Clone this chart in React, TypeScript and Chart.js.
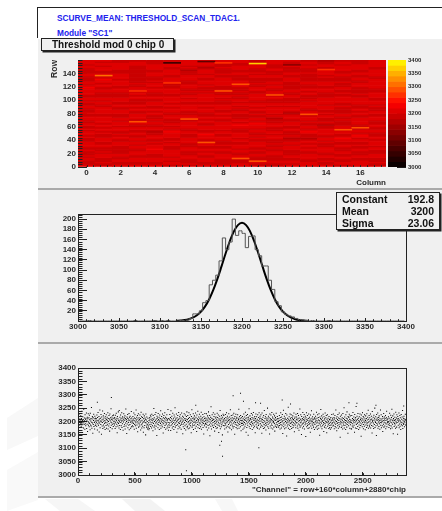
import React, { useEffect, useRef } from "react";
import { Chart, registerables } from "chart.js";

Chart.register(...registerables);

const FONT = "'Liberation Sans', Arial, sans-serif";

// Texts
const headerLine1 = "SCURVE_MEAN: THRESHOLD_SCAN_TDAC1.";
const headerLine2 = 'Module "SC1"';
const mapTitle = "Threshold mod 0 chip 0";
const mapXTitle = "Column";
const mapYTitle = "Row";
const scatterXTitle = '"Channel" = row+160*column+2880*chip';
const statsRows = [["Constant", "192.8"], ["Mean", "3200"], ["Sigma", "23.06"]];

// Ticks
const mapXTicks = [0, 2, 4, 6, 8, 10, 12, 14, 16];
const mapYTicks = [0, 20, 40, 60, 80, 100, 120, 140];
const barTicks = [3000, 3050, 3100, 3150, 3200, 3250, 3300, 3350, 3400];
const histXTicks = [3000, 3050, 3100, 3150, 3200, 3250, 3300, 3350, 3400];
const histYTicks = [20, 40, 60, 80, 100, 120, 140, 160, 180, 200];
const scatterXTicks = [0, 500, 1000, 1500, 2000, 2500];
const scatterYTicks = [3000, 3050, 3100, 3150, 3200, 3250, 3300, 3350, 3400];

// Mean threshold above 3000, every second row of each column (bottom to top)
const col00 = [205,191,214,178,196,228,201,187,209,197,166,206,221,193,182,211,199,238,188,204,159,218,194,207,176,246,198,189,213,203,171,225,192,208,184,212,199,232,174,205,190,216,163,210,200,229,186,195,214,180,223,193,207,169,231,187,202,211,183,252,197,175,209,219,194,156,215,189,204,227,181,210,196,172,220,201,185,212,191,206];
const col01 = [211,197,182,224,203,168,215,192,234,205,186,198,219,161,209,194,243,177,202,212,189,226,199,152,217,206,183,196,239,174,208,221,187,201,213,179,230,193,204,170,218,197,210,185,225,175,207,195,216,188,203,233,172,211,200,183,222,192,209,164,228,205,178,214,198,248,186,208,195,217,173,206,190,222,212,181,224,201,193,210];
const col02 = [187,215,201,174,223,195,208,180,231,203,190,212,158,219,197,183,209,236,193,204,176,241,199,185,216,206,170,224,196,210,184,202,233,178,213,192,218,203,167,208,198,229,181,214,188,205,221,172,211,194,247,183,207,200,155,217,191,212,226,177,203,196,209,186,230,169,216,205,189,220,197,175,210,201,237,180,213,194,205,184];
const col03 = [198,219,180,209,193,232,204,171,213,189,225,201,184,210,195,243,175,206,216,187,199,222,162,209,194,229,179,203,214,191,207,183,224,197,211,168,202,235,188,218,176,205,192,215,182,197,227,160,210,199,177,221,203,185,213,196,208,150,228,194,206,179,217,187,200,172,190,212,177,183,195,169,204,174,214,188,208,198,223,181];
const col04 = [218,190,206,176,227,196,210,184,203,165,222,193,208,249,179,214,200,186,226,172,205,194,234,182,209,198,148,220,191,213,203,177,230,188,207,196,216,170,202,224,184,211,193,240,175,206,199,219,187,209,180,228,195,204,157,214,192,222,201,178,210,233,185,197,216,171,206,190,212,194,225,176,203,208,183,245,196,167,211,188];
const col05 = [178,208,194,226,184,204,215,166,240,197,210,187,220,201,176,192,231,206,181,212,196,170,224,203,190,217,251,179,206,194,210,185,228,199,160,214,203,188,222,173,207,195,234,182,210,193,218,177,200,225,186,205,213,171,194,232,189,209,198,220,154,202,180,216,191,206,229,174,196,211,184,224,204,168,209,190,219,200,236,179];
const col06 = [207,182,222,195,173,211,200,233,188,215,176,204,193,225,184,209,197,158,219,205,244,179,212,191,201,185,229,170,213,196,207,221,187,210,199,175,232,194,216,182,204,163,224,197,210,189,238,177,207,202,217,186,195,227,174,212,192,206,180,220,198,235,171,209,187,203,214,195,226,178,206,193,153,218,200,184,211,230,190,205];
const col07 = [193,213,203,179,229,190,209,197,168,221,205,185,214,236,176,199,210,188,222,147,207,194,216,182,255,201,172,212,191,225,204,184,209,196,233,178,207,219,187,200,164,227,193,213,181,203,217,175,198,208,190,231,177,215,202,186,224,195,159,210,206,183,220,192,241,173,205,198,212,180,222,188,209,194,150,216,201,227,185,206];
const col08 = [222,198,184,211,172,206,193,226,187,215,203,177,233,195,209,182,220,199,161,213,204,189,229,179,207,194,217,175,201,244,186,210,197,222,169,205,191,214,183,203,224,176,209,194,231,181,212,199,152,219,190,206,196,227,178,210,187,216,203,173,197,225,184,212,192,207,246,175,201,218,189,195,210,180,222,204,165,214,193,203];
const col09 = [185,205,219,193,171,212,199,188,228,176,207,196,217,182,204,235,191,210,160,222,201,178,214,194,226,186,206,149,216,198,209,248,180,203,192,221,174,211,189,207,196,230,183,200,215,170,224,193,209,187,234,177,204,213,195,182,219,206,158,211,199,228,188,202,218,179,194,208,175,225,197,204,185,215,191,233,172,209,201,220];
const col10 = [212,192,179,225,202,186,209,156,232,197,207,182,216,195,174,222,204,189,241,177,199,211,184,218,193,168,226,206,187,213,196,203,250,180,209,190,220,175,201,214,194,153,228,205,183,210,198,224,176,207,191,234,185,203,217,172,212,196,200,227,179,206,193,221,164,209,187,215,204,181,231,195,178,208,189,219,199,211,184,202];
const col11 = [200,179,210,193,222,185,204,172,215,196,233,189,207,176,217,198,184,226,202,155,211,191,242,180,205,195,220,173,209,187,213,200,230,177,207,194,146,224,197,183,212,203,190,253,175,208,198,218,186,203,170,228,193,212,181,206,225,195,174,215,201,188,210,221,178,196,207,184,232,192,162,212,203,217,187,199,177,227,194,208];
const col12 = [217,196,206,183,230,175,210,191,222,201,167,213,187,204,247,179,195,208,225,184,198,151,219,205,190,211,176,234,193,207,182,216,197,226,172,203,209,188,220,194,144,214,200,233,180,207,192,222,185,204,174,211,197,228,189,177,216,202,193,209,160,224,183,205,199,240,175,212,191,201,218,186,207,196,179,227,194,210,170,214];
const col13 = [189,209,199,220,177,205,194,235,182,212,202,171,225,195,185,215,206,175,229,192,203,149,217,197,187,211,245,180,207,194,221,173,200,213,184,204,227,190,196,163,218,206,179,210,193,232,186,201,214,176,222,198,158,208,195,225,182,203,212,188,199,174,219,193,207,178,185,209,171,197,215,187,203,177,226,192,206,195,212,183];
const col14 = [206,228,186,198,215,173,209,194,222,181,203,190,243,177,212,200,165,218,193,207,184,226,196,175,213,204,188,232,180,210,195,141,220,201,191,208,178,224,197,183,214,205,172,230,194,211,187,199,251,176,207,217,185,196,204,170,225,192,212,202,179,236,189,209,197,156,219,203,184,215,194,227,208,175,200,221,188,206,196,173];
const col15 = [195,172,222,203,183,211,192,234,179,207,198,217,186,204,160,226,195,209,176,215,201,256,189,205,174,220,193,208,181,230,197,212,170,204,187,218,199,177,228,194,207,185,213,145,224,202,191,210,180,233,196,206,219,173,189,214,201,182,225,195,209,169,204,221,187,198,211,178,229,192,206,184,216,196,242,175,208,199,222,186];
const col16 = [180,214,202,191,228,176,207,195,220,185,209,157,237,199,204,182,216,194,174,223,206,189,212,250,178,201,196,218,184,208,148,226,193,204,213,187,232,175,207,198,215,181,221,192,203,171,210,196,243,186,205,225,177,195,209,200,184,219,163,212,204,190,230,179,197,217,206,183,211,194,222,173,204,191,214,238,180,208,195,201];
const col17 = [209,196,188,218,200,178,212,192,231,185,205,198,173,223,208,183,215,195,246,176,203,190,221,206,154,211,197,228,181,204,193,216,187,207,175,235,201,194,213,179,225,196,209,152,219,204,186,210,199,232,177,206,191,222,182,214,202,170,195,226,188,208,197,217,184,241,174,205,193,212,189,220,200,180,209,195,203,227,187,207];
const channelMean = [col00, col01, col02, col03, col04, col05, col06, col07, col08, col09, col10, col11, col12, col13, col14, col15, col16, col17];

// Single pixels that stand out in the map: column, row, value
const mapColumns = [10, 5, 7, 8, 1, 15, 16, 11, 10, 9, 7, 9, 3, 6, 3, 14, 5, 8, 13, 12];
const mapRows = [154, 155, 157, 155, 136, 55, 58, 107, 8, 12, 36, 123, 113, 71, 67, 145, 125, 113, 78, 152];
const mapHot = [3372, 3045, 3095, 3272, 3308, 3290, 3282, 3288, 3280, 3282, 3292, 3284, 3275, 3288, 3280, 3272, 3262, 3290, 3280, 3130];

// Isolated points of the channel plot
const strayChannels = [293, 170, 1362, 1427, 1453, 946, 952, 1245, 1260, 1269, 1588, 1793, 1866, 1559, 1603, 2379, 2449, 2616, 1034, 2860];
const strayValues = [3290, 3272, 3296, 3306, 3276, 3094, 3016, 3111, 3126, 3070, 3102, 3280, 3265, 3270, 3268, 3270, 3268, 3261, 3261, 3258];

// Histogram, bins of 4 from 3000
const histCounts = [
  0, 0, 0, 1, 0, 0, 0, 0, 0, 0, 0, 0, 0, 0, 0, 0, 0, 1, 0, 0,
  0, 0, 0, 1, 0, 1, 0, 1, 0, 0, 0, 1, 1, 2, 5, 14, 14, 20, 36, 40,
  71, 80, 90, 118, 163, 140, 155, 200, 168, 177, 172, 144, 166, 167, 140, 128, 108, 108, 80, 62,
  38, 30, 18, 13, 10, 8, 5, 3, 2, 1, 0, 1, 0, 0, 0, 0, 1, 0, 0, 0,
  0, 0, 0, 0, 0, 0, 0, 0, 0, 0, 0, 0, 0, 0, 0, 0, 0, 0, 0, 0,
];
const fitX = [3120, 3125, 3130, 3135, 3140, 3145, 3150, 3155, 3160, 3165, 3170, 3175, 3180, 3185, 3190, 3195, 3200, 3205, 3210, 3215, 3220, 3225, 3230, 3235, 3240, 3245, 3250, 3255, 3260, 3265, 3270, 3275, 3280];
const fitY = [0.5, 1, 1.9, 3.6, 6.5, 11.2, 18.4, 28.7, 42.8, 60.9, 82.7, 107.1, 132.4, 156, 175.5, 188.3, 192.8, 188.3, 175.5, 156, 132.4, 107.1, 82.7, 60.9, 42.8, 28.7, 18.4, 11.2, 6.5, 3.6, 1.9, 1, 0.5];

// Colour of a level, black through red to yellow
function heatColor(value: number) {
  const level = Math.min(19, Math.max(0, Math.floor((value - 3000) / 20)));
  const v = 3000 + (level + 0.5) * 20;
  if (v <= 3240) return `rgb(${Math.round(((v - 3000) / 240) * 255)},0,0)`;
  return `rgb(255,${Math.round(((v - 3240) / 160) * 255)},0)`;
}

const tickFont = { family: FONT, size: 8, weight: "bold" as const };
const INK = "#222";
const plainLabel = (v: any) => String(v);

// Inward small ticks and the frame of the plot
const rootAxes = {
  id: "rootAxes",
  afterDraw(chart: any, _a: any, o: any) {
    const { ctx, chartArea: c, scales } = chart;
    ctx.save();
    ctx.strokeStyle = INK;
    ctx.lineWidth = 1;
    if (o.frame) ctx.strokeRect(Math.round(c.left) + 0.5, Math.round(c.top) + 0.5, Math.round(c.width), Math.round(c.height));
    for (let v = o.xFrom; o.xStep && v <= o.xTo + 1e-6; v += o.xStep) {
      const p = Math.round(scales.x.getPixelForValue(v)) + 0.5;
      ctx.beginPath(); ctx.moveTo(p, c.bottom); ctx.lineTo(p, c.bottom - 1.8); ctx.stroke();
    }
    for (let v = o.yFrom; o.yStep && v <= o.yTo + 1e-6; v += o.yStep) {
      const p = Math.round(scales.y.getPixelForValue(v)) + 0.5;
      ctx.beginPath(); ctx.moveTo(c.left, p); ctx.lineTo(c.left + 4.5, p); ctx.stroke();
    }
    ctx.restore();
  },
};

function axis(ticks: number[], min: number, max: number, horizontal: boolean, size: number, title?: any, hideBorder?: boolean) {
  const tl = horizontal ? 3 : 9;
  return {
    type: "linear" as const,
    min,
    max,
    offset: false,
    position: horizontal ? ("bottom" as const) : ("left" as const),
    afterBuildTicks: (s: any) => { s.ticks = ticks.map((value) => ({ value })); },
    afterFit: (s: any) => { if (horizontal) s.height = size; else s.width = size; },
    grid: { display: true, offset: false, drawOnChartArea: false, drawTicks: true, tickLength: -tl, tickColor: INK, tickWidth: 1 },
    border: { display: !hideBorder, color: INK },
    ticks: { font: tickFont, color: "#2a2a2a", autoSkip: false, maxRotation: 0, padding: tl + (horizontal ? 1 : 2), callback: plainLabel },
    title,
  };
}

function useChart(make: (c: HTMLCanvasElement) => Chart) {
  const ref = useRef<HTMLCanvasElement>(null);
  useEffect(() => {
    const chart = make(ref.current!);
    return () => chart.destroy();
  }, []);
  return ref;
}

function makeMap(canvas: HTMLCanvasElement) {
  const points: any[] = [];
  const colors: string[] = [];
  channelMean.forEach((col, c) => col.forEach((m, i) => {
    // The rows are finer than a pixel here, so each band shows its neighbours too
    const below = col[Math.max(0, i - 1)];
    const above = col[Math.min(col.length - 1, i + 1)];
    points.push({ x: c, y: [i * 2, i * 2 + 2] });
    colors.push(heatColor(3000 + (below + 2 * m + above) / 4));
  }));
  mapHot.forEach((v, i) => {
    points.push({ x: mapColumns[i], y: [mapRows[i], mapRows[i] + 1.4] });
    colors.push(heatColor(v));
  });
  return new Chart(canvas, {
    type: "bar",
    data: { datasets: [{ data: points, backgroundColor: colors, borderWidth: 0, barPercentage: 1, categoryPercentage: 1 }] },
    plugins: [rootAxes],
    options: {
      responsive: false, animation: false, events: [],
      layout: { padding: { top: 21, right: 56, left: 0, bottom: 0 } },
      plugins: { legend: { display: false }, tooltip: { enabled: false }, rootAxes: { frame: false, xFrom: 0, xTo: 17.4, xStep: 0.4, yFrom: 0, yTo: 160, yStep: 4 } } as any,
      scales: {
        x: axis(mapXTicks, -0.5, 17.5, true, 21, { display: true, text: mapXTitle, align: "end", font: tickFont, color: "#2a2a2a", padding: { top: 0, bottom: 0.5 } }, true),
        y: axis(mapYTicks, 0, 160, false, 40, { display: true, text: mapYTitle, align: "end", font: { ...tickFont, size: 8.5 }, color: "#2a2a2a", padding: { top: 12, bottom: 0 } }, true),
      },
    },
  } as any);
}

function makeBar(canvas: HTMLCanvasElement) {
  const levels = Array.from({ length: 20 }, (_, i) => 3000 + i * 20);
  return new Chart(canvas, {
    type: "bar",
    data: {
      datasets: [{
        data: levels.map((l) => ({ x: 0, y: [l, l + 20] })),
        backgroundColor: levels.map((l) => heatColor(l + 1)),
        borderWidth: 0, barThickness: 19,
      }],
    },
    options: {
      responsive: false, animation: false, events: [],
      layout: { padding: { top: 21, bottom: 21, left: 0, right: 0 } },
      plugins: { legend: { display: false }, tooltip: { enabled: false } },
      scales: {
        x: { type: "linear", min: -0.5, max: 0.5, offset: false, display: false },
        y: {
          type: "linear", min: 3000, max: 3400, position: "right", offset: false,
          afterBuildTicks: (s: any) => { s.ticks = barTicks.map((value) => ({ value })); },
          afterFit: (s: any) => { s.width = 36; },
          grid: { display: true, drawOnChartArea: false, drawTicks: true, tickLength: -9, tickColor: "#1a1a1a" },
          border: { display: false },
          ticks: { font: { ...tickFont, size: 6 }, color: "#2a2a2a", autoSkip: false, padding: 11, callback: plainLabel },
        },
      },
    },
  } as any);
}

function makeHist(canvas: HTMLCanvasElement) {
  return new Chart(canvas, {
    type: "line",
    data: {
      datasets: [
        { data: histCounts.map((y, i) => ({ x: 3000 + i * 4 + 2, y })), borderColor: "#555", borderWidth: 1, stepped: "middle", pointRadius: 0 },
        { data: fitX.map((x, i) => ({ x, y: fitY[i] })), borderColor: "#000", borderWidth: 2, tension: 0.4, pointRadius: 0 },
      ],
    },
    plugins: [rootAxes],
    options: {
      responsive: false, animation: false, events: [],
      layout: { padding: { top: 24, right: 36, left: 0, bottom: 0 } },
      plugins: { legend: { display: false }, tooltip: { enabled: false }, rootAxes: { frame: true, xFrom: 3000, xTo: 3400, xStep: 10, yFrom: 0, yTo: 210, yStep: 4 } } as any,
      scales: { x: axis(histXTicks, 3000, 3400, true, 22), y: axis(histYTicks, 0, 210, false, 40) },
    },
  } as any);
}

function makeScatter(canvas: HTMLCanvasElement) {
  const points: any[] = [];
  channelMean.forEach((col, c) => col.forEach((m, i) => points.push({ x: c * 160 + i * 2, y: 3000 + m })));
  strayChannels.forEach((x, i) => points.push({ x, y: strayValues[i] }));
  return new Chart(canvas, {
    type: "scatter",
    data: { datasets: [{ data: points, backgroundColor: "#000", borderWidth: 0, pointStyle: "rect", pointRadius: 0.72 }] },
    plugins: [rootAxes],
    options: {
      responsive: false, animation: false, events: [],
      layout: { padding: { top: 25, right: 36, left: 0, bottom: 0 } },
      plugins: { legend: { display: false }, tooltip: { enabled: false }, rootAxes: { frame: true, xFrom: 0, xTo: 2880, xStep: 100, yFrom: 3000, yTo: 3400, yStep: 10 } } as any,
      scales: {
        x: axis(scatterXTicks, 0, 2880, true, 22, { display: true, text: scatterXTitle, align: "end", font: tickFont, color: "#2a2a2a", padding: { top: 0, bottom: 2 } }),
        y: axis(scatterYTicks, 3000, 3400, false, 40),
      },
    },
  } as any);
}

const panel = (top: number, height: number): React.CSSProperties => ({
  position: "absolute", left: 38, top, width: 404, height,
  background: "#f0f0f0", borderBottom: "2px solid #aaa", boxSizing: "border-box",
});
const abs = (left: number, top: number): React.CSSProperties => ({ position: "absolute", left, top, display: "block" });

export default function App() {
  const mapRef = useChart(makeMap);
  const barRef = useChart(makeBar);
  const histRef = useChart(makeHist);
  const scatterRef = useChart(makeScatter);
  return (
    <div style={{ position: "absolute", left: 0, top: 0, width: 442, height: 511, overflow: "hidden", background: "#fff", fontFamily: FONT, filter: "blur(0.4px)" }}>
      <svg width={442} height={511} style={abs(0, 0)}>
        <polygon points="7,418 38,398 38,436 7,450" fill="#f8f8f8" />
        <polygon points="7,470 38,452 38,500 7,511" fill="#f9f9f9" />
        <polygon points="45,499 78,499 95,511 60,511" fill="#f6f6f6" />
        <polygon points="122,499 150,499 165,511 135,511" fill="#f3f3f3" />
        <polygon points="215,499 232,499 238,511 222,511" fill="#f7f7f7" />
      </svg>
      <div style={{ position: "absolute", left: 37, top: 7, width: 405, height: 30, borderTop: "1px solid #222", borderLeft: "1px solid #222" }} />
      <div style={{ position: "absolute", left: 57, top: 13, color: "#2222ee", fontWeight: 700, fontSize: 8.3, lineHeight: "10px", whiteSpace: "nowrap" }}>{headerLine1}</div>
      <div style={{ position: "absolute", left: 57, top: 28, color: "#2222ee", fontWeight: 700, fontSize: 8.3, lineHeight: "10px", whiteSpace: "nowrap" }}>{headerLine2}</div>

      <div style={panel(39, 151)} />
      <div style={panel(190, 154)} />
      <div style={panel(344, 154)} />

      <canvas ref={mapRef} width={404} height={149} style={abs(38, 39)} />
      <canvas ref={barRef} width={54} height={149} style={abs(388, 39)} />
      <canvas ref={histRef} width={404} height={153} style={abs(38, 190)} />
      <canvas ref={scatterRef} width={404} height={154} style={abs(38, 343)} />

      <div style={{ position: "absolute", left: 41, top: 38, width: 133, height: 13, boxSizing: "border-box", background: "#f0f0f0", border: "1px solid #222", boxShadow: "1.5px 1.5px 0 #222", fontSize: 10, fontWeight: 700, lineHeight: "11px", paddingLeft: 10, whiteSpace: "nowrap", color: "#111" }}>{mapTitle}</div>

      <div style={{ position: "absolute", left: 336, top: 192, width: 104, height: 38, boxSizing: "border-box", background: "#f0f0f0", border: "1px solid #222", boxShadow: "1.5px 1.5px 0 #222", padding: "0 5px 0 5px", fontSize: 10.5, fontWeight: 700, color: "#111", lineHeight: "12px" }}>
        {statsRows.map(([k, v]) => (
          <div key={k} style={{ display: "flex", justifyContent: "space-between" }}><span>{k}</span><span>{v}</span></div>
        ))}
      </div>
    </div>
  );
}
